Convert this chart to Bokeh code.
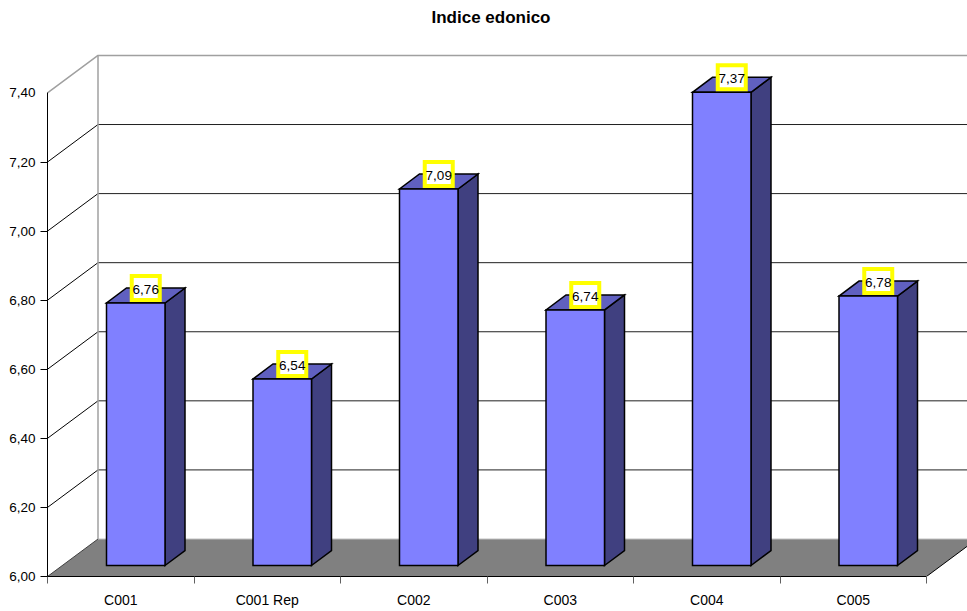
from bokeh.plotting import figure
from bokeh.embed import file_html
from bokeh.resources import INLINE
from bokeh.models import Range1d, FixedTicker, LinearAxis
from bokeh.core.properties import value

categories = ["C001", "C001 Rep", "C002", "C003", "C004", "C005"]
values = [6.76, 6.54, 7.09, 6.74, 7.37, 6.78]
value_labels = ["6,76", "6,54", "7,09", "6,74", "7,37", "6,78"]
y_ticks = [6.0, 6.2, 6.4, 6.6, 6.8, 7.0, 7.2, 7.4]
y_tick_labels = ["6,00", "6,20", "6,40", "6,60", "6,80", "7,00", "7,20", "7,40"]
title_text = "Indice edonico"

FONT = "Liberation Sans"
PX_PER_CAT = 146.5
PX_PER_UNIT = 345.4
FRAME_W, FRAME_H = 920, 576
X_END = FRAME_W / PX_PER_CAT
Y_END = 6.0 + FRAME_H / PX_PER_UNIT
n = len(categories)

# oblique projection of the 3-D box, in data units
DX = 50.5 / PX_PER_CAT
DY = 37.5 / PX_PER_UNIT
BAR_W = 58.5 / PX_PER_CAT
BAR_DX = 20 / PX_PER_CAT
BAR_DY = 15 / PX_PER_UNIT
BAR_SHIFT_X = 15 / PX_PER_CAT
BAR_SHIFT_Y = 11 / PX_PER_UNIT
LABEL_LIFT = 15 / PX_PER_UNIT

p = figure(width=967, height=611, output_backend="svg", toolbar_location=None,
           x_range=Range1d(0, X_END), y_range=Range1d(6.0, Y_END),
           x_axis_location=None, y_axis_location=None,
           frame_width=FRAME_W, frame_height=FRAME_H,
           min_border_left=47, min_border_right=0, min_border_top=0, min_border_bottom=35,
           background_fill_color="white", border_fill_color="white", outline_line_color=None)
p.grid.visible = False

# title, placed in the space above the box
p.text([443.5 / PX_PER_CAT], [Y_END - 17 / PX_PER_UNIT], text=[title_text], text_align="center",
       text_baseline="middle", text_font=value(FONT), text_font_size="17px",
       text_font_style="bold", text_color="black")

# floor
p.patch([0, DX, n + DX, n], [6.0, 6.0 + DY, 6.0 + DY, 6.0],
        fill_color="#808080", line_color=None)
p.line([DX, n + DX], [6.0 + DY, 6.0 + DY], line_color="#c0c0c0", line_width=1)
p.line([n, n + DX], [6.0, 6.0 + DY], line_color="black", line_width=1)

# walls and gridlines
inner = [t for t in y_ticks if 6.0 < t < 7.4]
p.segment([DX] * len(inner), [t + DY for t in inner], [X_END] * len(inner), [t + DY for t in inner],
          line_color="#202020", line_width=1)
p.segment([0] * len(inner), inner, [DX] * len(inner), [t + DY for t in inner],
          line_color="black", line_width=1)
p.line([0, DX], [6.0, 6.0 + DY], line_color="#404040", line_width=1)
p.line([0, DX, X_END], [7.4, 7.4 + DY, 7.4 + DY], line_color="#a0a0a0", line_width=1.5)
p.line([DX, DX], [6.0 + DY, 7.4 + DY], line_color="#a0a0a0", line_width=1.5)

# bars
base = 6.0 + BAR_SHIFT_Y
for i, v in enumerate(values):
    cx = i + 0.5 + BAR_SHIFT_X
    l, r = cx - BAR_W / 2, cx + BAR_W / 2
    top = v + BAR_SHIFT_Y
    p.patch([r, r + BAR_DX, r + BAR_DX, r], [base, base + BAR_DY, top + BAR_DY, top],
            fill_color="#404080", line_color="black", line_width=1.5, line_join="miter")
    p.patch([l, r, r + BAR_DX, l + BAR_DX], [top, top, top + BAR_DY, top + BAR_DY],
            fill_color="#6060C0", line_color="black", line_width=1.5, line_join="miter")
    p.patch([l, r, r, l], [base, base, top, top],
            fill_color="#8080FF", line_color="black", line_width=1.5, line_join="miter")

# value labels
lx = [i + 0.5 + BAR_SHIFT_X + BAR_DX / 2 for i in range(n)]
ly = [v + BAR_SHIFT_Y + LABEL_LIFT for v in values]
p.rect(lx, ly, width=28, height=24, width_units="screen", height_units="screen",
       fill_color="white", line_color="#FFFF00", line_width=4, line_join="miter")
p.text(lx, ly, text=value_labels, text_align="center", text_baseline="middle", y_offset=1.5,
       text_font=value(FONT), text_font_size="13.5px", text_color="black")

# axes
yax = LinearAxis(ticker=FixedTicker(ticks=y_ticks, minor_ticks=y_ticks[:-1]), bounds=(6.0, 7.4),
                 major_label_overrides=dict(zip(y_ticks, y_tick_labels)),
                 major_tick_out=0, major_tick_in=0, minor_tick_out=7, minor_tick_in=0,
                 major_label_standoff=5, axis_line_color="black", axis_line_width=1,
                 minor_tick_line_color="black", major_label_text_font=FONT,
                 major_label_text_font_size="13.5px", major_label_text_color="black")
p.add_layout(yax, "left")

cat_pos = [i + 0.5 for i in range(n)]
edges = list(range(n + 1))
xax = LinearAxis(ticker=FixedTicker(ticks=cat_pos, minor_ticks=edges), bounds=(0, n),
                 major_label_overrides=dict(zip(cat_pos, categories)),
                 major_tick_out=0, major_tick_in=0, minor_tick_out=7, minor_tick_in=0,
                 major_label_standoff=8, axis_line_color="black", axis_line_width=1,
                 minor_tick_line_color="#606060", major_label_text_font=FONT,
                 major_label_text_font_size="14px", major_label_text_color="black")
p.add_layout(xax, "below")

open("out.html", "w").write(file_html(p, INLINE))
